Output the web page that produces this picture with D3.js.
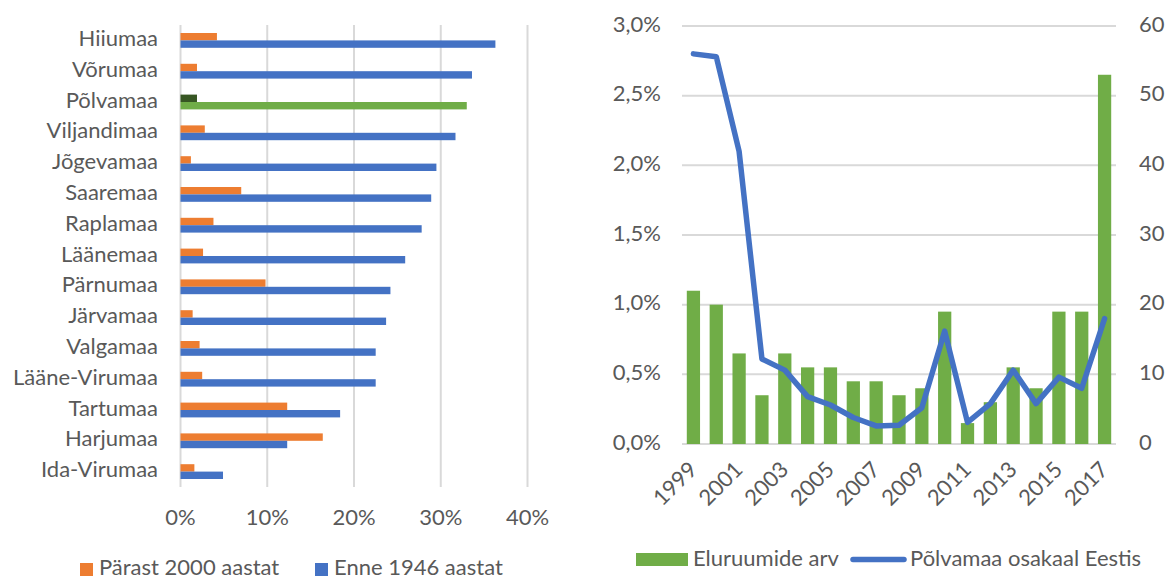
<!DOCTYPE html>
<html>
<head>
    <meta charset="utf-8">
    <title>Põlvamaa</title>
    <style>
        body { margin: 0; background: #ffffff; }
        svg { display: block; font-family: Lato, "Open Sans", sans-serif; }
        text { fill: #595959; }
        .grid line { stroke: #d9d9d9; stroke-width: 2px; }
    </style>
    <script src="https://cdn.jsdelivr.net/npm/d3@7"></script>
</head>
<body>
<script>
    // vasak joonis: maakonnad
    const counties = ["Hiiumaa", "Võrumaa", "Põlvamaa", "Viljandimaa", "Jõgevamaa", "Saaremaa", "Raplamaa",
        "Läänemaa", "Pärnumaa", "Järvamaa", "Valgamaa", "Lääne-Virumaa", "Tartumaa", "Harjumaa", "Ida-Virumaa"];
    const after2000 = [0.042, 0.019, 0.019, 0.028, 0.012, 0.070, 0.038, 0.026, 0.098, 0.014, 0.022, 0.025, 0.123, 0.164, 0.016];
    const before1946 = [0.363, 0.336, 0.330, 0.317, 0.295, 0.289, 0.278, 0.259, 0.242, 0.237, 0.225, 0.225, 0.184, 0.123, 0.049];
    const pctTicks = [0, 0.1, 0.2, 0.3, 0.4];

    // parem joonis: aastad
    const years = d3.range(1999, 2018).map(String);
    const dwellings = [22, 20, 13, 7, 13, 11, 11, 9, 9, 7, 8, 19, 3, 6, 11, 8, 19, 19, 53];
    const shareEstonia = [0.0280, 0.0278, 0.0210, 0.0061, 0.0053, 0.0034, 0.0028, 0.0019, 0.0013, 0.00135, 0.0026,
        0.0081, 0.00155, 0.0029, 0.0053, 0.0029, 0.0048, 0.0040, 0.0090];
    const shareTicks = [0, 0.005, 0.01, 0.015, 0.02, 0.025, 0.03];
    const countTicks = [0, 10, 20, 30, 40, 50, 60];

    const orange = "#ed7d31", blue = "#4472c4", green = "#70ad47", darkGreen = "#375623";
    const fontSize = "22px";

    const svg = d3.select("body").append("svg")
        .attr("width", 1169)
        .attr("height", 581);

    /* ---------- left chart ---------- */
    const x = d3.scaleLinear().domain([0, 0.4]).range([180.5, 527.5]);
    const y = d3.scaleBand().domain(counties).range([25, 487]);
    const barH = 7.4;

    svg.append("g").attr("class", "grid")
        .selectAll("line")
        .data(pctTicks)
        .enter().append("line")
        .attr("x1", d => x(d)).attr("x2", d => x(d))
        .attr("y1", 25).attr("y2", 487);

    svg.append("g")
        .selectAll("text")
        .data(pctTicks)
        .enter().append("text")
        .attr("x", d => x(d))
        .attr("y", 519)
        .attr("text-anchor", "middle")
        .attr("dominant-baseline", "middle")
        .style("font-size", fontSize)
        .text(d3.format(".0%"));

    svg.append("g")
        .selectAll("text")
        .data(counties)
        .enter().append("text")
        .attr("x", 158)
        .attr("y", d => y(d) + y.bandwidth() / 2)
        .attr("text-anchor", "end")
        .attr("dominant-baseline", "middle")
        .style("font-size", fontSize)
        .text(d => d);

    svg.append("g")
        .selectAll("rect")
        .data(counties)
        .enter().append("rect")
        .attr("x", x(0))
        .attr("y", d => y(d) + y.bandwidth() / 2 - barH)
        .attr("width", (d, i) => x(after2000[i]) - x(0))
        .attr("height", barH)
        .attr("fill", d => d === "Põlvamaa" ? darkGreen : orange);

    svg.append("g")
        .selectAll("rect")
        .data(counties)
        .enter().append("rect")
        .attr("x", x(0))
        .attr("y", d => y(d) + y.bandwidth() / 2)
        .attr("width", (d, i) => x(before1946[i]) - x(0))
        .attr("height", barH)
        .attr("fill", d => d === "Põlvamaa" ? green : blue);

    // legend
    const legL = [{label: "Pärast 2000 aastat", color: orange, x: 80}, {label: "Enne 1946 aastat", color: blue, x: 315}];
    legL.forEach(l => {
        svg.append("rect")
            .attr("x", l.x).attr("y", 563)
            .attr("width", 13).attr("height", 13)
            .attr("fill", l.color);
        svg.append("text")
            .attr("x", l.x + 19).attr("y", 569)
            .attr("dominant-baseline", "middle")
            .style("font-size", fontSize)
            .text(l.label);
    });

    /* ---------- right chart ---------- */
    const xb = d3.scaleBand().domain(years).range([682, 1116]).paddingInner(0.42).paddingOuter(0.21);
    const yL = d3.scaleLinear().domain([0, 0.03]).range([444, 26]);
    const yR = d3.scaleLinear().domain([0, 60]).range([444, 26]);
    const fmtShare = d => d3.format(".1%")(d).replace(".", ",");

    svg.append("g").attr("class", "grid")
        .selectAll("line")
        .data(shareTicks)
        .enter().append("line")
        .attr("x1", 682).attr("x2", 1116)
        .attr("y1", d => yL(d)).attr("y2", d => yL(d));

    svg.append("g")
        .selectAll("text")
        .data(shareTicks)
        .enter().append("text")
        .attr("x", 661)
        .attr("y", d => yL(d))
        .attr("text-anchor", "end")
        .attr("dominant-baseline", "middle")
        .style("font-size", fontSize)
        .text(fmtShare);

    svg.append("g")
        .selectAll("text")
        .data(countTicks)
        .enter().append("text")
        .attr("x", 1139)
        .attr("y", d => yR(d))
        .attr("dominant-baseline", "middle")
        .style("font-size", fontSize)
        .text(d => d);

    svg.append("g")
        .selectAll("rect")
        .data(years)
        .enter().append("rect")
        .attr("x", d => xb(d))
        .attr("y", (d, i) => yR(dwellings[i]))
        .attr("width", xb.bandwidth())
        .attr("height", (d, i) => yR(0) - yR(dwellings[i]))
        .attr("fill", green);

    const line = d3.line()
        .x((d, i) => xb(years[i]) + xb.bandwidth() / 2)
        .y(d => yL(d));

    svg.append("path")
        .datum(shareEstonia)
        .attr("d", line)
        .attr("fill", "none")
        .attr("stroke", blue)
        .attr("stroke-width", 5.5)
        .attr("stroke-linejoin", "round")
        .attr("stroke-linecap", "round");

    svg.append("g")
        .selectAll("text")
        .data(years.filter((d, i) => i % 2 === 0))
        .enter().append("text")
        .attr("text-anchor", "end")
        .attr("transform", d => "translate(" + (xb(d) + xb.bandwidth() / 2 + 5) + ",471) rotate(-45)")
        .style("font-size", fontSize)
        .text(d => d);

    // legend
    svg.append("rect")
        .attr("x", 636).attr("y", 553)
        .attr("width", 52).attr("height", 13)
        .attr("fill", green);
    svg.append("text")
        .attr("x", 693).attr("y", 560)
        .attr("dominant-baseline", "middle")
        .style("font-size", fontSize)
        .text("Eluruumide arv");
    svg.append("line")
        .attr("x1", 853).attr("x2", 904)
        .attr("y1", 559.5).attr("y2", 559.5)
        .attr("stroke", blue)
        .attr("stroke-width", 5.5)
        .attr("stroke-linecap", "round");
    svg.append("text")
        .attr("x", 910).attr("y", 560)
        .attr("dominant-baseline", "middle")
        .style("font-size", fontSize)
        .text("Põlvamaa osakaal Eestis");
</script>
</body>
</html>
